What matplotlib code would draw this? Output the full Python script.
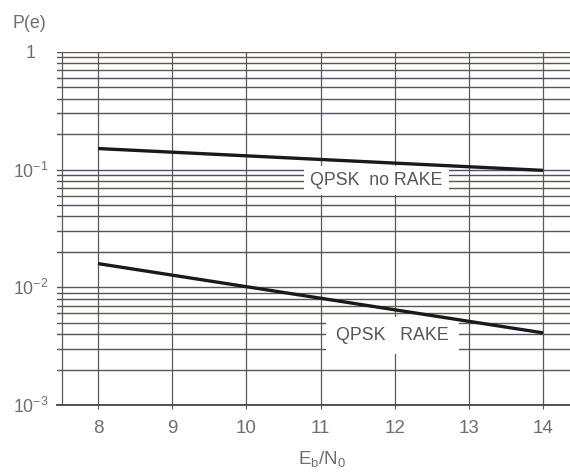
import matplotlib
matplotlib.use("Agg")
import matplotlib.pyplot as plt
from matplotlib.ticker import LogLocator, FixedLocator, NullFormatter

plt.rcParams['font.family'] = ['Liberation Sans', 'DejaVu Sans']

# data
ebn0 = [8, 14]
qpsk_no_rake = [0.151, 0.0985]
qpsk_rake = [0.0159, 0.0041]
x_ticks = [8, 9, 10, 11, 12, 13, 14]
y_ticks = [1e-3, 1e-2, 1e-1, 1]
y_tick_labels = [r'$\mathregular{10^{-3}}$', r'$\mathregular{10^{-2}}$', r'$\mathregular{10^{-1}}$', '1']
label_no_rake = 'QPSK  no RAKE'
label_rake = 'QPSK   RAKE'

fig = plt.figure(figsize=(5.7, 4.72), dpi=100)
ax = fig.add_axes([0.1, 0.142, 0.9, 0.748])
ax.set_yscale('log')
ax.set_xlim(7.447, 14.364)
ax.set_ylim(1e-3, 1)

txt = '#6e6e6e'
grid_cols = ['#5e5450', '#505064', '#58585e', '#5e5450', '#5e5650', '#505064', '#5e5450', '#505064', '#5e5450']

ax.xaxis.set_major_locator(FixedLocator(x_ticks))
ax.set_xticklabels([str(v) for v in x_ticks])
ax.yaxis.set_major_locator(FixedLocator(y_ticks))
ax.set_yticklabels(y_tick_labels)
ax.yaxis.set_minor_locator(LogLocator(base=10, subs=[2, 3, 4, 5, 6, 7, 8, 9], numticks=20))
ax.yaxis.set_minor_formatter(NullFormatter())

ax.grid(True, axis='x', which='major', color='#5a5a5a', lw=0.9)
ax.grid(True, axis='y', which='both', color='#58545a', lw=1.0)

ax.tick_params(axis='x', which='major', length=3, color='#5a5a5a', labelsize=13.5,
               labelcolor=txt, pad=8)
ax.tick_params(axis='y', which='both', length=0, labelsize=12.8, labelcolor=txt, pad=19)
for lab in ax.get_yticklabels():
    lab.set_horizontalalignment('center')

fig.canvas.draw()
ticks = ax.yaxis.get_minor_ticks() + ax.yaxis.get_major_ticks()
for i, t in enumerate(ticks):
    t.gridline.set_color(grid_cols[i % len(grid_cols)])

for s in ['top', 'right', 'left']:
    ax.spines[s].set_visible(False)
ax.spines['bottom'].set_color('#444444')
ax.spines['bottom'].set_linewidth(1.3)

ax.axvline(7.515, color='#5a5a5a', lw=0.9)

ax.plot(ebn0, qpsk_no_rake, color='#1a1a1a', lw=2.4, solid_capstyle='butt', zorder=8)
ax.plot(ebn0, qpsk_rake, color='#1a1a1a', lw=2.4, solid_capstyle='butt', zorder=8)

ax.text(11.75, 0.081, label_no_rake, fontsize=12.8, color='#555555', ha='center', va='center',
        bbox=dict(facecolor='white', edgecolor='none', boxstyle='square,pad=0.35'), zorder=6)
ax.text(11.97, 0.0039, label_rake, fontsize=12.8, color='#555555', ha='center', va='center',
        bbox=dict(facecolor='white', edgecolor='none', boxstyle='square,pad=0.55'), zorder=6)

fig.text(12 / 570, 1 - 23 / 472, 'P(e)', fontsize=12.8, color=txt, ha='left', va='center')
fig.text(322 / 570, 1 - 459 / 472, r'$\mathregular{E_b/N_0}$', fontsize=13.5, color=txt,
         ha='center', va='center')

fig.savefig('out.png', dpi=100)
